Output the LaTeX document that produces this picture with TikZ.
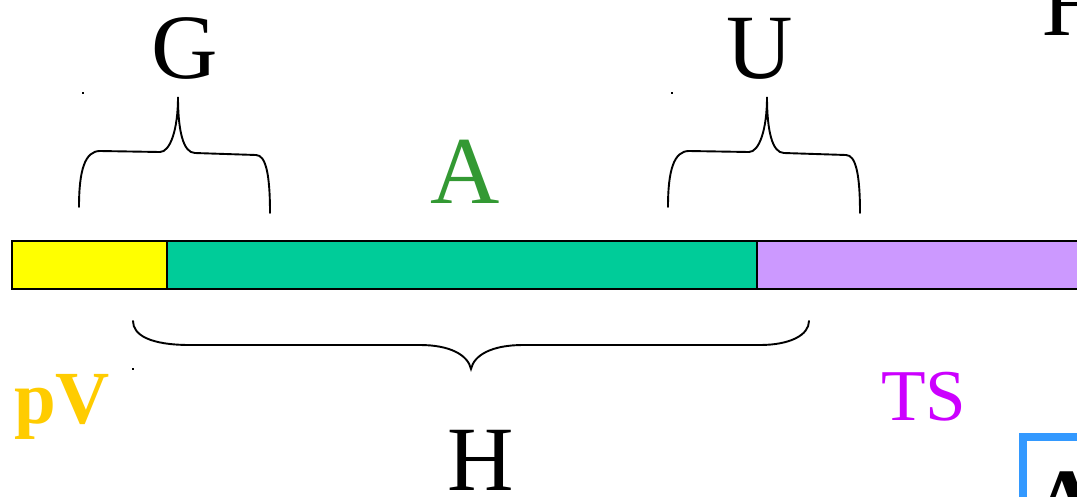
\documentclass[tikz,border=0pt]{standalone}
\usepackage{fontspec}
\setmainfont{Liberation Serif}
\definecolor{barY}{HTML}{FFFF00}
\definecolor{barG}{HTML}{00CC99}
\definecolor{barP}{HTML}{CC99FF}
\definecolor{txtA}{HTML}{339933}
\definecolor{txtPV}{HTML}{FFCC00}
\definecolor{txtTS}{HTML}{CC00FF}
\definecolor{boxB}{HTML}{3399FF}
\tikzset{
  bar/.style={draw=black, line width=1.6pt, inner sep=0pt, outer sep=0pt},
  brace/.style={draw=black, line width=1.9pt, line cap=round},
  big/.style={inner sep=0pt, anchor=base, font=\fontsize{92}{92}\selectfont},
  dotmark/.style={fill=black, inner sep=0pt, minimum size=2pt},
}
\begin{document}
\begin{tikzpicture}[x=1pt,y=-1pt]
\useasboundingbox (0,0) rectangle (1077,496);
\clip (0,0) rectangle (1077,496);
\fill[white] (0,0) rectangle (1077,496);
% bars
\draw[bar, fill=barY] (12,241) rectangle (167,289);
\draw[bar, fill=barG] (167,241) rectangle (757,289);
\draw[bar, fill=barP] (757,241) rectangle (1090,289);
\coordinate (gL) at (79,207);
\coordinate (gT) at (178,97);
\coordinate (gR) at (270,213);
\coordinate (uL) at (668,207);
\coordinate (uT) at (767,97);
\coordinate (uR) at (860,213);
\coordinate (hL) at (133,321);
\coordinate (hT) at (471,369);
\coordinate (hR) at (809,321);
% braces
\draw[brace] (gL) .. controls (79,170) and (85,151) .. (100,151) -- (160,152)
  .. controls (170,152) and (178,130) .. (gT)
  .. controls (178,130) and (183,153) .. (195,153) -- (256,155)
  .. controls (266,155) and (270,175) .. (gR);
\draw[brace] (uL) .. controls (668,170) and (674,151) .. (689,151) -- (749,152)
  .. controls (759,152) and (767,130) .. (uT)
  .. controls (767,130) and (772,153) .. (784,153) -- (846,155)
  .. controls (856,155) and (860,175) .. (uR);
\draw[brace] (hL) .. controls (133,335) and (150,345) .. (190,345) -- (420,345)
  .. controls (450,345) and (468,355) .. (hT)
  .. controls (474,355) and (492,345) .. (523,345) -- (760,345)
  .. controls (790,345) and (809,335) .. (hR);
% small dots
\node[dotmark] (d1) at (83,93) {};
\node[dotmark] (d2) at (672,93) {};
\node[dotmark] (d3) at (133,369) {};
% labels
\node[big] (G) at (185,78) {G};
\node[big] (U) at (760,78) {U};
\node[big, text=txtA, font=\fontsize{96}{96}\selectfont] (A) at (465,203) {A};
\node[big] (H) at (481,490) {H};
\node[big, anchor=base west] (H2) at (1042,35) {H};
\node[inner sep=0pt, anchor=base west, text=txtPV, font=\bfseries\fontsize{75}{75}\selectfont] (pV) at (14,423) {pV};
\node[inner sep=0pt, anchor=base west, text=txtTS, font=\fontsize{73}{73}\selectfont] (TS) at (881,420) {TS};
% bottom-right partial box
\draw[draw=boxB, line width=8pt] (1023,437) rectangle (1130,560);
\node[inner sep=0pt, anchor=base, font=\bfseries\fontsize{92}{92}\selectfont] (A2) at (1067,532) {A};
\end{tikzpicture}
\end{document}
